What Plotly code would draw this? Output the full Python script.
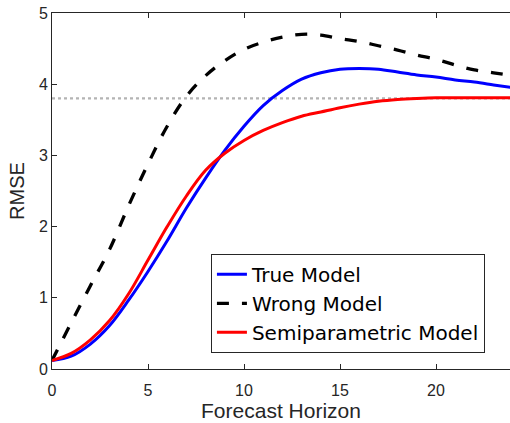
import plotly.graph_objects as go

horizon = list(range(0, 25))
true_model = [0.12, 0.18, 0.35, 0.61, 0.97, 1.37, 1.80, 2.26, 2.68, 3.07, 3.41, 3.70, 3.91,
              4.07, 4.16, 4.21, 4.22, 4.21, 4.17, 4.13, 4.10, 4.06, 4.03, 3.99, 3.95]
wrong_model = [0.12, 0.65, 1.17, 1.68, 2.30, 2.88, 3.41, 3.83, 4.12, 4.33, 4.49, 4.59, 4.66,
               4.70, 4.69, 4.64, 4.60, 4.54, 4.48, 4.41, 4.35, 4.27, 4.20, 4.16, 4.12]
semi_model = [0.12, 0.22, 0.41, 0.68, 1.06, 1.53, 2.00, 2.43, 2.79, 3.03, 3.21, 3.35, 3.46,
              3.55, 3.61, 3.67, 3.72, 3.76, 3.785, 3.80, 3.81, 3.81, 3.81, 3.81, 3.81]
reference_level = 3.8
x_ticks = [0, 5, 10, 15, 20]
y_ticks = [0, 1, 2, 3, 4, 5]

W, H = 510, 423
ML, MR, MT, MB = 52, 0, 13, 54
px_per_unit = 19.2
x_max = (W - ML - MR) / px_per_unit

fig = go.Figure()
fig.add_trace(go.Scatter(x=[0, 30], y=[reference_level, reference_level], mode="lines",
                         line=dict(color="#b4b4b4", width=2.2, dash="3px,3px"),
                         showlegend=False, hoverinfo="skip"))
fig.add_trace(go.Scatter(x=horizon, y=true_model, mode="lines", name="True Model",
                         line=dict(color="#0000ff", width=3, shape="spline")))
fig.add_trace(go.Scatter(x=horizon, y=wrong_model, mode="lines", name="Wrong Model",
                         line=dict(color="#000000", width=3.3, shape="spline", dash="12px,13px")))
fig.add_trace(go.Scatter(x=horizon, y=semi_model, mode="lines", name="Semiparametric Model",
                         line=dict(color="#ff0000", width=3, shape="spline")))

axis_color = "#262626"
fig.update_layout(
    width=W, height=H,
    margin=dict(l=ML, r=MR, t=MT, b=MB, pad=0),
    paper_bgcolor="white", plot_bgcolor="white",
    font=dict(family="Liberation Sans, Arial, sans-serif", color=axis_color),
    xaxis=dict(range=[0, x_max], tickvals=x_ticks, ticks="inside", ticklen=5,
               tickcolor=axis_color, showline=True, linecolor=axis_color, linewidth=1,
               mirror="ticks", showgrid=False, zeroline=False, ticklabelstandoff=7,
               tickfont=dict(size=16, color=axis_color),
               title=dict(text="Forecast Horizon", font=dict(size=21, color=axis_color), standoff=4)),
    yaxis=dict(range=[0, 5], tickvals=y_ticks, ticks="inside", ticklen=5,
               tickcolor=axis_color, showline=True, linecolor=axis_color, linewidth=1,
               showgrid=False, zeroline=False,
               tickfont=dict(size=16, color=axis_color),
               title=dict(text="RMSE", font=dict(size=20, color=axis_color), standoff=8)),
    legend=dict(x=0.347, y=0.3236, xanchor="left", yanchor="top",
                bordercolor="#262626", borderwidth=1, bgcolor="white",
                font=dict(family="DejaVu Sans, sans-serif", size=20, color="#000000"),
                itemwidth=30, tracegroupgap=0),
)

fig.write_html("out.html")
